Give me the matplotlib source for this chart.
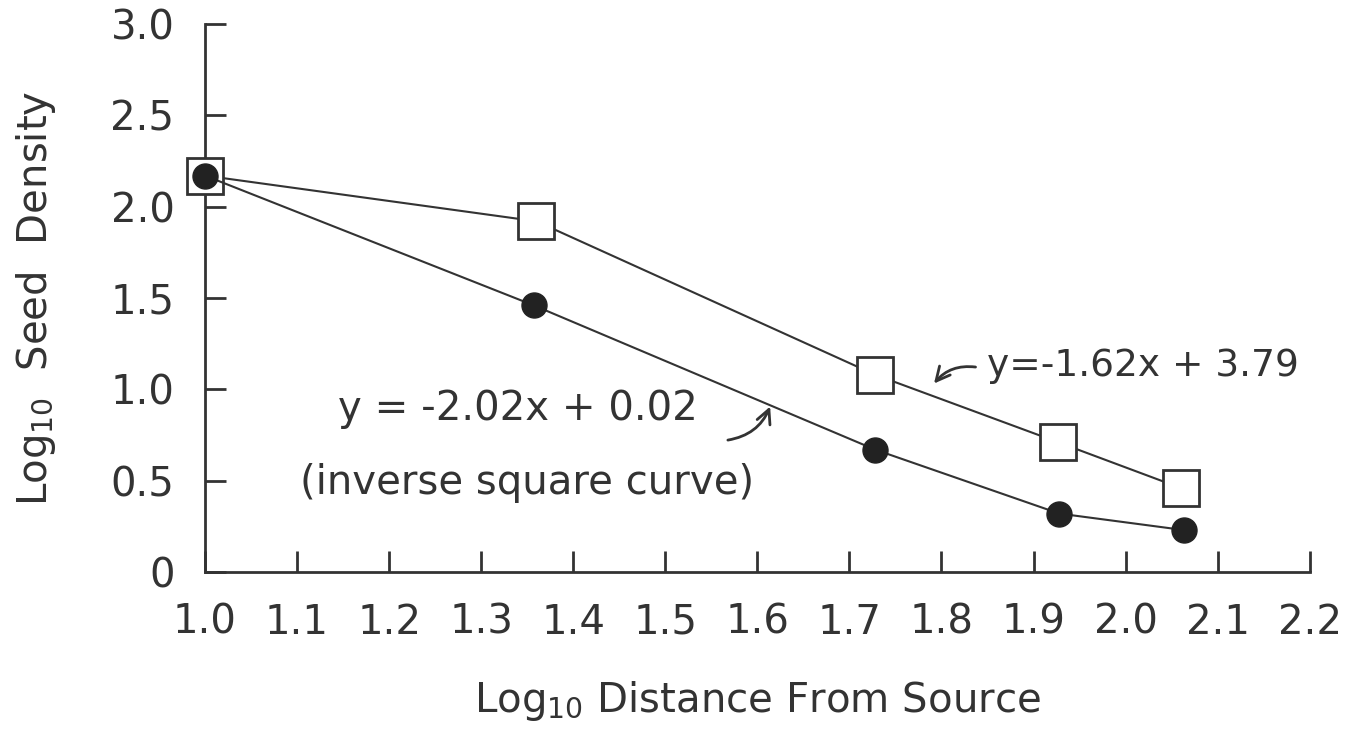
import matplotlib.pyplot as plt
import numpy as np

# log10 distance from source
dist_open = [1.0, 1.36, 1.728, 1.927, 2.06]
dens_open = [2.17, 1.92, 1.08, 0.71, 0.46]

dist_filled = [1.0, 1.357, 1.728, 1.928, 2.063]
dens_filled = [2.17, 1.46, 0.67, 0.32, 0.23]

x_ticks = [1.0, 1.1, 1.2, 1.3, 1.4, 1.5, 1.6, 1.7, 1.8, 1.9, 2.0, 2.1, 2.2]
x_labels = ["1.0", "1.1", "1.2", "1.3", "1.4", "1.5", "1.6", "1.7", "1.8", "1.9", "2.0", "2.1", "2.2"]
y_ticks = [0, 0.5, 1.0, 1.5, 2.0, 2.5, 3.0]
y_labels = ["0", "0.5", "1.0", "1.5", "2.0", "2.5", "3.0"]

ink = "#333333"
plt.rcParams['font.family'] = ['DejaVu Sans']

fig = plt.figure(figsize=(13.53, 7.43), dpi=100)
ax = fig.add_axes([0.1515, 0.2301, 0.8165, 0.7376])

ax.plot(dist_open, dens_open, color=ink, lw=1.5, marker="s", ms=26,
        mfc="white", mec=ink, mew=2, zorder=3, clip_on=False)
ax.plot(dist_filled, dens_filled, color=ink, lw=1.5, marker="o", ms=18,
        mfc="#222222", mec="#222222", zorder=4, clip_on=False)

ax.set_xlim(1.0, 2.2)
ax.set_ylim(0, 3.0)
ax.spines["top"].set_visible(False)
ax.spines["right"].set_visible(False)
for s in ["left", "bottom"]:
    ax.spines[s].set_color(ink)
    ax.spines[s].set_linewidth(2)

ax.set_xticks(x_ticks)
ax.set_xticklabels(x_labels)
ax.set_yticks(y_ticks)
ax.set_yticklabels(y_labels)
ax.tick_params(axis="both", direction="in", length=15, width=2, color=ink,
               labelsize=29, labelcolor=ink)
ax.tick_params(axis="x", pad=22)
ax.tick_params(axis="y", pad=22)

ax.set_xlabel("Log$_{10}$ Distance From Source", fontsize=29, color=ink, labelpad=26)
ax.set_ylabel("Log$_{10}$  Seed  Density", fontsize=29, color=ink, labelpad=38)

ax.text(1.145, 0.89, "y = -2.02x + 0.02", fontsize=29, color=ink, ha="left", va="center")
ax.text(1.103, 0.49, "(inverse square curve)", fontsize=29, color=ink, ha="left", va="center")
ax.annotate("", xy=(1.615, 0.92), xytext=(1.565, 0.72),
            arrowprops=dict(arrowstyle="->", color=ink, lw=2, mutation_scale=25,
                            connectionstyle="arc3,rad=0.3"))

ax.text(1.85, 1.13, "y=-1.62x + 3.79", fontsize=27, color=ink, ha="left", va="center")
ax.annotate("", xy=(1.79, 1.02), xytext=(1.84, 1.12),
            arrowprops=dict(arrowstyle="->", color=ink, lw=2, mutation_scale=25,
                            connectionstyle="arc3,rad=0.3"))

fig.savefig("out.png", dpi=100)
